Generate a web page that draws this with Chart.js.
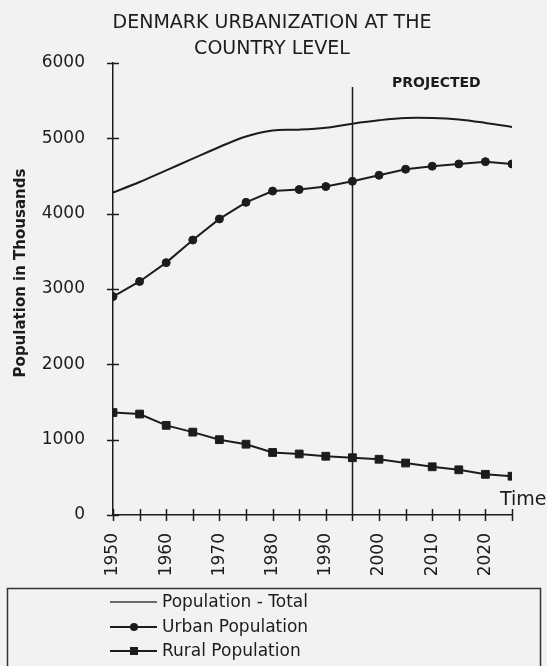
<!DOCTYPE html>
<html>
<head>
<meta charset="utf-8">
<title>Denmark urbanization</title>
<script src="https://cdn.jsdelivr.net/npm/chart.js@4.4.1/dist/chart.umd.min.js"></script>
<style>
  html, body { margin: 0; padding: 0; background: #f2f2f2; }
</style>
</head>
<body>
<canvas id="chart" width="547" height="666"></canvas>
<script>
// population in thousands, 5-year steps (1995 on = projection)
var years = [1950, 1955, 1960, 1965, 1970, 1975, 1980, 1985, 1990, 1995, 2000, 2005, 2010, 2015, 2020, 2025];
var totalPop = [4280, 4420, 4575, 4730, 4885, 5025, 5105, 5115, 5140, 5195, 5240, 5270, 5270, 5250, 5205, 5150];
var urbanPop = [2900, 3100, 3350, 3650, 3930, 4150, 4300, 4320, 4360, 4430, 4510, 4590, 4630, 4660, 4690, 4660];
var ruralPop = [1360, 1340, 1190, 1100, 1000, 940, 830, 810, 780, 760, 740, 690, 640, 600, 540, 515];
var yTicks = [0, 1000, 2000, 3000, 4000, 5000, 6000];
var projYear = 1995;
var seriesNames = ['Population - Total', 'Urban Population', 'Rural Population'];
var titleLines = ['DENMARK URBANIZATION AT THE', 'COUNTRY LEVEL'];

var FONT = '"DejaVu Sans", "Liberation Sans", sans-serif';
var INK = '#1c1c1c';

function pts(vals) {
  return vals.map(function (v, i) { return { x: years[i], y: v }; });
}

// axes ticks, projection divider, titles and the boxed legend
var decor = {
  id: 'decor',
  beforeDraw: function (chart) {
    var ctx = chart.ctx;
    ctx.save();
    ctx.fillStyle = '#f2f2f2';
    ctx.fillRect(0, 0, chart.width, chart.height);
    ctx.restore();
  },
  beforeDatasetsDraw: function (chart) {
    var ctx = chart.ctx, xs = chart.scales.x, ys = chart.scales.y;
    var x0 = xs.getPixelForValue(years[0]);
    var y0 = ys.getPixelForValue(0);
    ctx.save();
    ctx.strokeStyle = INK;
    ctx.lineWidth = 1.5;
    ctx.beginPath();
    // crossing tick marks
    yTicks.forEach(function (v) {
      var y = Math.round(ys.getPixelForValue(v)) + 0.5;
      ctx.moveTo(x0 - 6, y); ctx.lineTo(x0 + 6, y);
    });
    years.forEach(function (yr) {
      var x = Math.round(xs.getPixelForValue(yr)) + 0.5;
      ctx.moveTo(x, y0 - 6); ctx.lineTo(x, y0 + 6);
    });
    // projection divider
    var px = Math.round(xs.getPixelForValue(projYear)) + 0.5;
    ctx.moveTo(px, 87); ctx.lineTo(px, y0);
    ctx.stroke();
    ctx.restore();
  },
  afterDraw: function (chart) {
    var ctx = chart.ctx;
    ctx.save();
    ctx.fillStyle = INK;

    ctx.font = '19px ' + FONT;
    ctx.textAlign = 'center';
    ctx.textBaseline = 'alphabetic';
    ctx.fillText(titleLines[0], 272, 28);
    ctx.fillText(titleLines[1], 272, 54);

    ctx.font = 'bold 14px ' + FONT;
    ctx.textAlign = 'left';
    ctx.fillText('PROJECTED', 392, 87);

    ctx.font = '19px ' + FONT;
    ctx.fillText('Time', 500, 505);

    ctx.save();
    ctx.translate(21, 273);
    ctx.rotate(-Math.PI / 2);
    ctx.font = 'bold 15px ' + FONT;
    ctx.textAlign = 'center';
    ctx.textBaseline = 'middle';
    ctx.fillText('Population in Thousands', 0, 0);
    ctx.restore();

    // legend box
    ctx.strokeStyle = '#333';
    ctx.lineWidth = 1.5;
    ctx.strokeRect(7.5, 588.5, 533, 100);

    var rows = [602, 627, 651];
    ctx.font = '17px ' + FONT;
    ctx.textBaseline = 'middle';
    chart.data.datasets.forEach(function (ds, i) {
      var y = rows[i];
      ctx.strokeStyle = i === 0 ? '#6a6a6a' : INK;
      ctx.lineWidth = 2;
      ctx.beginPath();
      ctx.moveTo(110, y); ctx.lineTo(157, y);
      ctx.stroke();
      ctx.fillStyle = INK;
      if (ds.pointStyle === 'rect') {
        ctx.fillRect(130, y - 4, 8, 8);
      } else if (ds.pointRadius > 0) {
        ctx.beginPath();
        ctx.arc(134, y, 4, 0, Math.PI * 2);
        ctx.fill();
      }
      ctx.fillText(ds.label, 162, y + 1);
    });
    ctx.restore();
  }
};

new Chart(document.getElementById('chart'), {
  type: 'line',
  data: {
    datasets: [{
      label: seriesNames[0],
      data: pts(totalPop),
      borderColor: INK,
      borderWidth: 2,
      pointRadius: 0,
      tension: 0.35
    }, {
      label: seriesNames[1],
      data: pts(urbanPop),
      borderColor: INK,
      backgroundColor: INK,
      borderWidth: 2,
      pointStyle: 'circle',
      pointRadius: 4,
      pointBorderWidth: 1
    }, {
      label: seriesNames[2],
      data: pts(ruralPop),
      borderColor: INK,
      backgroundColor: INK,
      borderWidth: 2,
      pointStyle: 'rect',
      pointRadius: 5.5,
      pointBorderWidth: 1
    }]
  },
  options: {
    responsive: false,
    animation: false,
    devicePixelRatio: 1,
    layout: { padding: { top: 63, right: 35, left: 0, bottom: 0 } },
    plugins: { legend: { display: false }, title: { display: false }, tooltip: { enabled: false } },
    scales: {
      x: {
        type: 'linear',
        min: years[0],
        max: years[years.length - 1],
        grid: { display: false },
        border: { color: INK, width: 1.5 },
        afterFit: function (scale) { scale.height = 151; },
        ticks: {
          stepSize: 5,
          autoSkip: false,
          minRotation: 90,
          maxRotation: 90,
          padding: 10,
          color: INK,
          font: { family: FONT, size: 17 },
          callback: function (v) { return v % 10 === 0 && v < 2025 ? String(v) : ''; }
        }
      },
      y: {
        min: 0,
        max: 6000,
        grid: { display: false },
        border: { color: INK, width: 1.5 },
        afterFit: function (scale) { scale.width = 113; },
        ticks: {
          stepSize: 1000,
          padding: 20,
          color: INK,
          font: { family: FONT, size: 17 },
          callback: function (v) { return String(v); }
        }
      }
    }
  },
  plugins: [decor]
});
</script>
</body>
</html>
